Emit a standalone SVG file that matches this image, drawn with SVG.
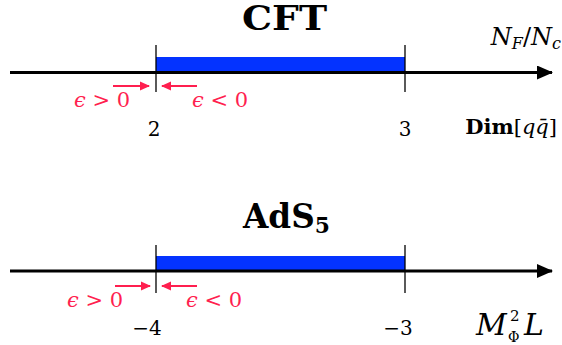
<svg xmlns="http://www.w3.org/2000/svg" width="562" height="345" viewBox="0 0 562 345">
<style>
.ax{stroke:#000;stroke-width:3;fill:none}
.tk{stroke:#000;stroke-width:1.3}
.bar{fill:#0433ff}
.red{stroke:#ff1f4f;stroke-width:2;fill:none}
.rt{fill:#ff1f4f;font-family:"DejaVu Serif","Liberation Serif",serif;font-size:21px}
.bt{fill:#000;font-family:"DejaVu Serif","Liberation Serif",serif;font-size:20px}
.ti{fill:#000;font-family:"DejaVu Serif","Liberation Serif",serif;font-size:33px;font-weight:bold}
.it{font-style:italic}
</style>
<defs>
<marker id="ah" markerWidth="16" markerHeight="14" refX="15" refY="7" orient="auto" markerUnits="userSpaceOnUse"><path d="M0,0 L16,7 L0,14 Z" fill="#000"/></marker>
<marker id="rh" markerWidth="10" markerHeight="10" refX="9" refY="5" orient="auto" markerUnits="userSpaceOnUse"><path d="M0,0.5 L10,5 L0,9.5 Z" fill="#ff1f4f"/></marker>
</defs>
<g id="cft">
<text class="ti" x="242" y="30" textLength="85" lengthAdjust="spacingAndGlyphs">CFT</text>
<rect class="bar" x="156" y="57" width="249" height="15"/>
<text class="bt" x="561" y="45" style="font-size:24px" text-anchor="end"><tspan class="it">N</tspan><tspan class="it" style="font-size:16px" dy="4">F</tspan><tspan dy="-4">/</tspan><tspan class="it">N</tspan><tspan class="it" style="font-size:16px" dy="4">c</tspan></text>
<text class="bt" x="557" y="134" style="font-size:21px" text-anchor="end"><tspan font-weight="bold">Dim</tspan>[<tspan class="it">q</tspan><tspan class="it">q̄</tspan>]</text>
<text class="bt" x="154" y="136" text-anchor="middle">2</text>
<text class="bt" x="405" y="136" text-anchor="middle">3</text>
<text class="rt" x="102" y="107" text-anchor="middle"><tspan class="it">ϵ</tspan> &gt; 0</text>
<text class="rt" x="220" y="107" text-anchor="middle"><tspan class="it">ϵ</tspan> &lt; 0</text>
</g>
<g id="ads">
<text class="ti" x="243" y="228" textLength="87" lengthAdjust="spacingAndGlyphs">AdS<tspan style="font-size:22px" dy="5">5</tspan></text>
<rect class="bar" x="156" y="256" width="249" height="14"/>
<text class="bt it" x="476" y="335" style="font-size:30px">M</text>
<text class="bt" x="510" y="321" style="font-size:15px">2</text>
<text class="bt" x="508" y="342" style="font-size:14px">Φ</text>
<text class="bt it" x="524" y="335" style="font-size:30px">L</text>
<text class="bt" x="147" y="335" text-anchor="middle">−4</text>
<text class="bt" x="398" y="335" text-anchor="middle">−3</text>
<text class="rt" x="95" y="307" text-anchor="middle"><tspan class="it">ϵ</tspan> &gt; 0</text>
<text class="rt" x="214" y="307" text-anchor="middle"><tspan class="it">ϵ</tspan> &lt; 0</text>
</g>
<g id="connectors">
<line class="ax" x1="10" y1="72.5" x2="552" y2="72.5" marker-end="url(#ah)"/>
<line class="tk" x1="156" y1="45" x2="156" y2="92"/>
<line class="tk" x1="405" y1="45" x2="405" y2="92"/>
<line class="red" x1="113" y1="86" x2="149" y2="86" marker-end="url(#rh)"/>
<line class="red" x1="197" y1="86" x2="162" y2="86" marker-end="url(#rh)"/>
<line class="ax" x1="10" y1="271" x2="552" y2="271" marker-end="url(#ah)"/>
<line class="tk" x1="156" y1="245" x2="156" y2="293"/>
<line class="tk" x1="405" y1="245" x2="405" y2="293"/>
<line class="red" x1="115" y1="286" x2="150" y2="286" marker-end="url(#rh)"/>
<line class="red" x1="197" y1="286" x2="162" y2="286" marker-end="url(#rh)"/>
</g>
</svg>
